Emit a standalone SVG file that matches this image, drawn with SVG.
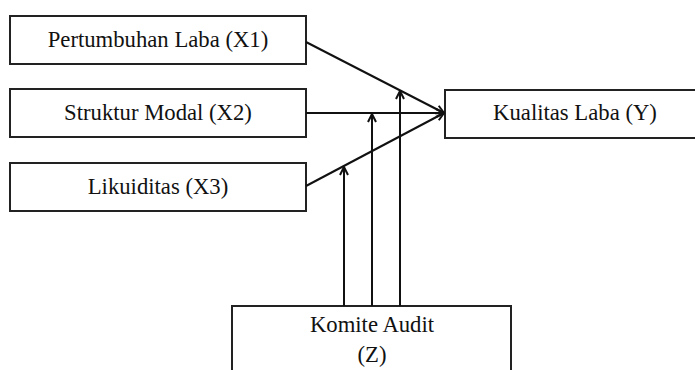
<svg xmlns="http://www.w3.org/2000/svg" width="695" height="370" viewBox="0 0 695 370">
<style>
.box{fill:#fff;stroke:#222;stroke-width:2}
.lbl{font-family:"Liberation Serif","Times New Roman",serif;font-size:22.7px;fill:#111;text-anchor:middle}
.edge{fill:none;stroke:#111;stroke-width:2}
</style>
<defs>
<marker id="ah" viewBox="0 0 10 10" refX="9" refY="5" markerWidth="10" markerHeight="10" markerUnits="userSpaceOnUse" orient="auto">
<path d="M1,1 L9,5 L1,9" fill="none" stroke="#111" stroke-width="2"/>
</marker>
</defs>
<rect width="695" height="370" fill="#fff"/>
<g id="x1"><rect class="box" x="10" y="16" width="296" height="48"/><text class="lbl" x="158" y="47">Pertumbuhan Laba (X1)</text></g>
<g id="x2"><rect class="box" x="10" y="89" width="296" height="48"/><text class="lbl" x="158" y="120">Struktur Modal (X2)</text></g>
<g id="x3"><rect class="box" x="10" y="163" width="296" height="48"/><text class="lbl" x="158" y="194">Likuiditas (X3)</text></g>
<g id="y"><rect class="box" x="445" y="90" width="262" height="48"/><text class="lbl" x="575" y="120">Kualitas Laba (Y)</text></g>
<g id="z"><rect class="box" x="232" y="306" width="279" height="80"/><text class="lbl" x="372" y="332">Komite Audit</text><text class="lbl" x="372" y="362">(Z)</text></g>
<g id="connectors">
<line class="edge" x1="306" y1="42" x2="444" y2="113" marker-end="url(#ah)"/>
<line class="edge" x1="306" y1="113" x2="444" y2="113" marker-end="url(#ah)"/>
<line class="edge" x1="306" y1="186" x2="444" y2="113" marker-end="url(#ah)"/>
<line class="edge" x1="344" y1="306" x2="344" y2="167" marker-end="url(#ah)"/>
<line class="edge" x1="372" y1="306" x2="372" y2="114" marker-end="url(#ah)"/>
<line class="edge" x1="400" y1="306" x2="400" y2="91" marker-end="url(#ah)"/>
</g>
</svg>
